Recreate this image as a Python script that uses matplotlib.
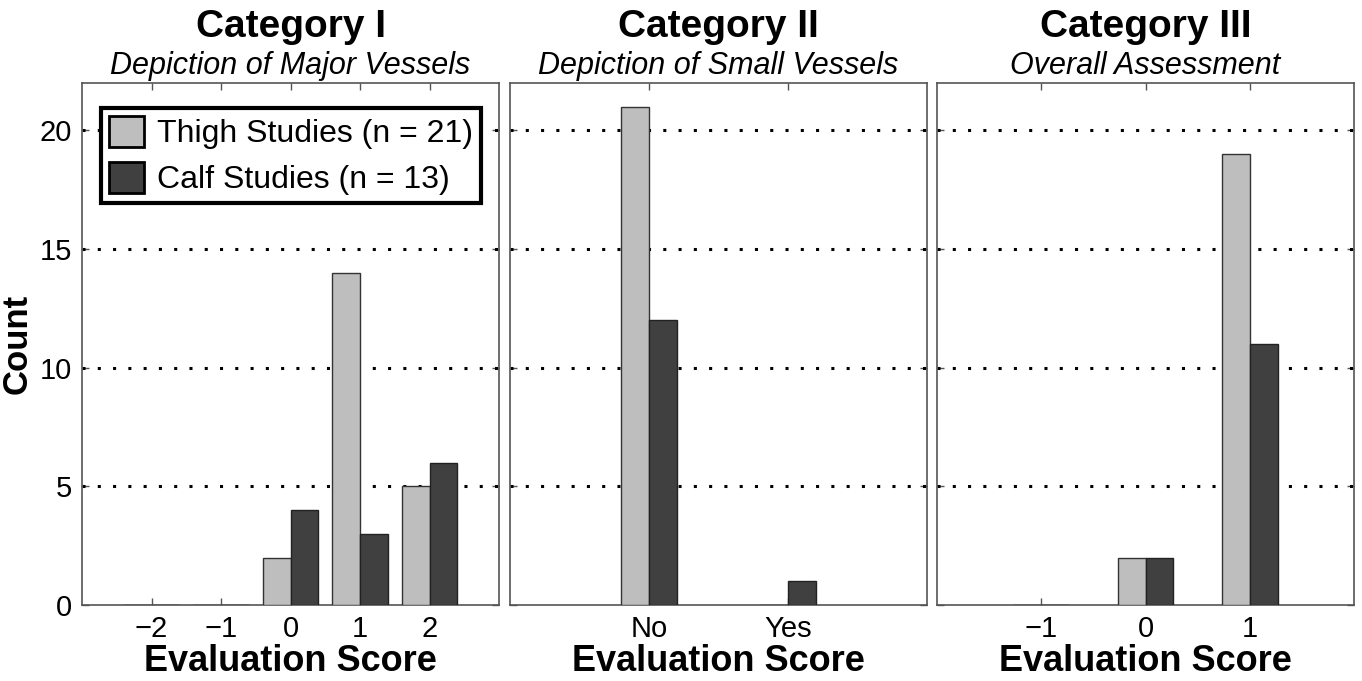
import numpy as np
import matplotlib.pyplot as plt
from matplotlib.patches import Patch

plt.rcParams['font.family'] = ['Liberation Sans', 'DejaVu Sans']

# counts per evaluation score, one set per category
cat1_scores = [-2, -1, 0, 1, 2]
cat1_labels = ['\u22122', '\u22121', '0', '1', '2']
cat1_thigh = [0, 0, 2, 14, 5]
cat1_calf = [0, 0, 4, 3, 6]

cat2_scores = [1, 2]
cat2_labels = ['No', 'Yes']
cat2_thigh = [21, 0]
cat2_calf = [12, 1]

cat3_scores = [-1, 0, 1]
cat3_labels = ['\u22121', '0', '1']
cat3_thigh = [0, 2, 19]
cat3_calf = [0, 2, 11]

titles = ['Category I', 'Category II', 'Category III']
subtitles = ['Depiction of Major Vessels', 'Depiction of Small Vessels',
             'Overall Assessment']
xlims = [(-3, 3), (0, 3), (-2, 2)]

THIGH_C = '#bebebe'
CALF_C = '#404040'

fig = plt.figure(figsize=(13.62, 6.81), dpi=100)
lefts = [82, 510, 937]
W, H = 1362, 681

panels = [(cat1_scores, cat1_labels, cat1_thigh, cat1_calf),
          (cat2_scores, cat2_labels, cat2_thigh, cat2_calf),
          (cat3_scores, cat3_labels, cat3_thigh, cat3_calf)]

axes = []
for i, (sc, lab, th, ca) in enumerate(panels):
    ax = fig.add_axes([lefts[i] / W, 1 - 605 / H, 417 / W, 522 / H])
    axes.append(ax)
    x0, x1 = xlims[i]
    # keep the bar width constant in pixels across panels
    bw = 0.4 * (x1 - x0) / 6
    sc = np.array(sc, dtype=float)
    ax.bar(sc - bw / 2, th, width=bw, color=THIGH_C, edgecolor='#333333',
           linewidth=1.0, zorder=3)
    ax.bar(sc + bw / 2, ca, width=bw, color=CALF_C, edgecolor='#222222',
           linewidth=1.0, zorder=3)
    ax.set_xlim(x0, x1)
    ax.set_ylim(0, 22)
    ax.set_xticks(sc)
    ax.set_xticklabels(lab)
    ax.set_yticks([0, 5, 10, 15, 20])
    for y in [5, 10, 15, 20]:
        ax.axhline(y, color='black', linestyle=(0, (1, 4)), linewidth=2.2,
                   zorder=2)
    ax.tick_params(direction='in', top=True, right=True, length=5,
                   width=1, color='#555555', labelsize=21, pad=7)
    if i > 0:
        ax.set_yticklabels([])
    for s in ax.spines.values():
        s.set_color('#555555')
        s.set_linewidth(1.2)
    ax.set_xlabel('Evaluation Score', fontsize=26, fontweight='bold',
                  labelpad=1)
    ax.text(0.5, 1.088, titles[i], transform=ax.transAxes, ha='center',
            va='baseline', fontsize=28, fontweight='bold')
    ax.text(0.5, 1.017, subtitles[i], transform=ax.transAxes, ha='center',
            va='baseline', fontsize=22, fontstyle='italic')

axes[0].set_ylabel('Count', fontsize=25, fontweight='bold')
axes[0].yaxis.set_label_coords(-0.115, 0.5)

handles = [Patch(facecolor=THIGH_C, edgecolor='black', linewidth=2),
           Patch(facecolor=CALF_C, edgecolor='black', linewidth=2)]
leg = axes[0].legend(handles, ['Thigh Studies (n = 21)', 'Calf Studies (n = 13)'],
                     loc='upper left', bbox_to_anchor=(0.045, 0.952),
                     fontsize=23, frameon=True, fancybox=False,
                     handlelength=1.1, handleheight=1.1, handletextpad=0.4,
                     borderpad=0.25, labelspacing=0.4, borderaxespad=0)
leg.get_frame().set_edgecolor('black')
leg.get_frame().set_linewidth(3)
leg.get_frame().set_alpha(1)
leg.set_zorder(5)

fig.savefig('out.png', dpi=100)
